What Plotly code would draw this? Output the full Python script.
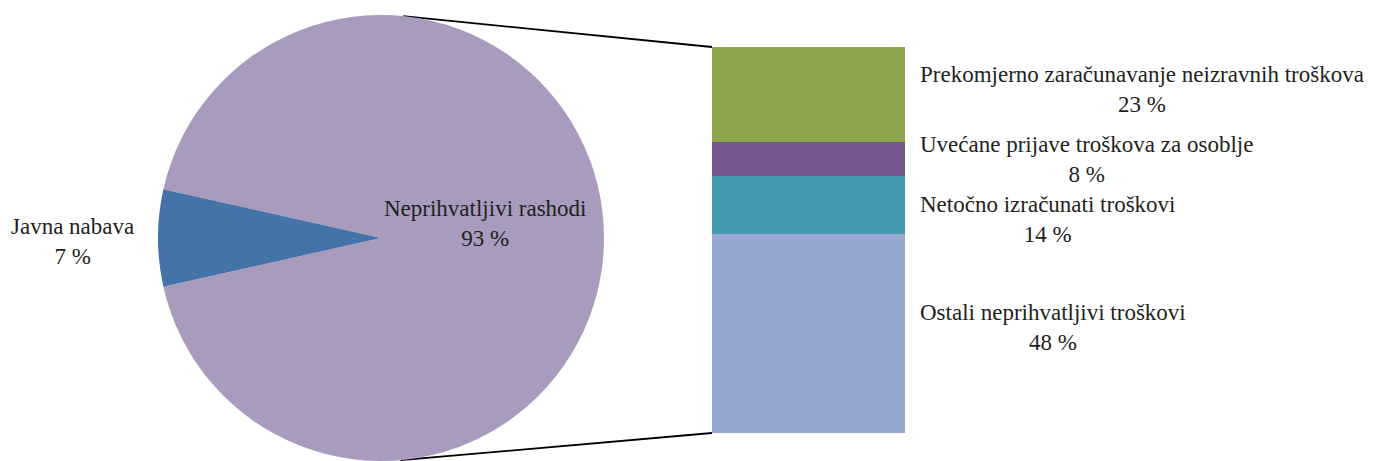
import math
import plotly.graph_objects as go

W, H = 1381, 461

# Pie: share of the two main categories
pie_labels = ["Neprihvatljivi rashodi", "Javna nabava"]
pie_values = [93, 7]
pie_colors = ["#A99BBD", "#4572A7"]

# Breakdown of "Neprihvatljivi rashodi" (stacked bottom to top)
bar_labels = [
    "Ostali neprihvatljivi troškovi",
    "Netočno izračunati troškovi",
    "Uvećane prijave troškova za osoblje",
    "Prekomjerno zaračunavanje neizravnih troškova",
]
bar_values = [48, 14, 8, 23]
bar_colors = ["#95A9D0", "#4499B0", "#73578C", "#8BA64C"]

FONT = "Liberation Serif"
FS = 23

# layout geometry in pixels
pie_cx, pie_top = 381, 15
pie_r = (H - pie_top) / 2
pie_cy = pie_top + pie_r
bar_left, bar_right = 712, 905
bar_top, bar_bottom = 47, 433


def px(x):
    return x / W


def py(y):
    return 1 - y / H


fig = go.Figure()

# Javna nabava wedge centred on 9 o'clock
share_last = pie_values[1] / sum(pie_values) * 360
rotation = 270 - (360 - share_last) - share_last / 2

fig.add_trace(go.Pie(
    labels=pie_labels, values=pie_values, sort=False, direction="clockwise",
    rotation=rotation, marker=dict(colors=pie_colors, line=dict(width=0)),
    textinfo="none", hoverinfo="label+percent", showlegend=False,
    domain=dict(x=[px(pie_cx - pie_r), px(pie_cx + pie_r)], y=[0, py(pie_top)]),
))

for lab, val, col in zip(bar_labels, bar_values, bar_colors):
    fig.add_trace(go.Bar(
        x=[0], y=[val], name=lab, marker=dict(color=col, line=dict(width=0)),
        width=1, xaxis="x", yaxis="y", showlegend=False, hoverinfo="name+y",
    ))

# connector lines: tangents from the bar corners to the pie circle
total = sum(bar_values)


def tangent(pxx, pyy, upper):
    dx, dy = pxx - pie_cx, pyy - pie_cy
    d = math.hypot(dx, dy)
    base = math.atan2(dy, dx)
    off = math.acos(pie_r / d)
    a = base - off if upper else base + off
    return pie_cx + pie_r * math.cos(a), pie_cy + pie_r * math.sin(a)


for corner_y, upper in [(bar_top, True), (bar_bottom, False)]:
    tx, ty = tangent(bar_left, corner_y, upper)
    fig.add_trace(go.Scatter(
        x=[px(tx), px(bar_left)], y=[py(ty), py(corner_y)], mode="lines",
        line=dict(color="black", width=1.8), xaxis="x2", yaxis="y2",
        showlegend=False, hoverinfo="skip", cliponaxis=False,
    ))

annotations = []
# pie labels
annotations.append(dict(x=px(485), y=py(223), text=f"{pie_labels[0]}<br>{pie_values[0]} %"))
annotations.append(dict(x=px(72), y=py(241), text=f"{pie_labels[1]}<br>{pie_values[1]} %"))
# bar labels
bar_label_y = [327, 220, 159, 90]
for lab, val, yy in zip(bar_labels, bar_values, bar_label_y):
    annotations.append(dict(x=px(918), y=py(yy), xanchor="left",
                            text=f"{lab}<br>{val} %"))
for a in annotations:
    a.update(xref="paper", yref="paper", showarrow=False, align="center",
             font=dict(family=FONT, size=FS, color="#231F20"))
    a.setdefault("xanchor", "center")
    a["yanchor"] = "middle"

fig.update_layout(
    width=W, height=H, margin=dict(l=0, r=0, t=0, b=0),
    paper_bgcolor="white", plot_bgcolor="rgba(0,0,0,0)",
    barmode="stack", bargap=0,
    xaxis=dict(domain=[px(bar_left), px(bar_right)], range=[-0.5, 0.5],
               visible=False, fixedrange=True, anchor="y"),
    yaxis=dict(domain=[py(bar_bottom), py(bar_top)], range=[0, total],
               visible=False, fixedrange=True, anchor="x"),
    xaxis2=dict(domain=[0, 1], range=[0, 1], visible=False, anchor="y2",
                fixedrange=True),
    yaxis2=dict(domain=[0, 1], range=[0, 1], visible=False, anchor="x2",
                fixedrange=True),
    annotations=annotations,
)

fig.write_html("out.html")
